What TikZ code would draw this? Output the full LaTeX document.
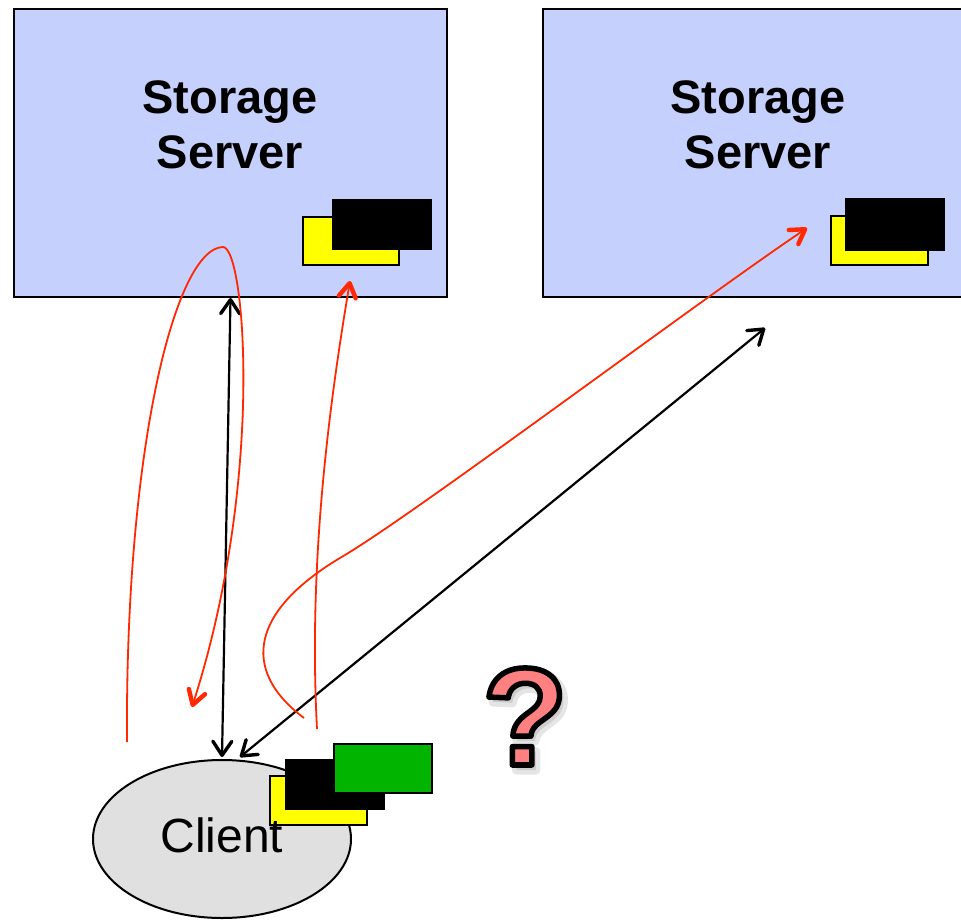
\documentclass[tikz,border=0pt]{standalone}
\usepackage{fontspec}
\setmainfont{Liberation Sans}
\usetikzlibrary{arrows.meta,shapes.geometric}

\definecolor{serverblue}{RGB}{197,208,252}
\definecolor{clientgray}{RGB}{224,224,224}
\definecolor{flowred}{RGB}{255,40,0}
\definecolor{qpink}{RGB}{255,128,128}
\definecolor{blockyellow}{RGB}{255,255,0}
\definecolor{blockgreen}{RGB}{0,180,0}

% glyphs filled with the current colour and stroked in a given width and grey level
\newcommand{\outlinedglyph}[3]{%
  \special{pdf:literal direct 2 Tr #1 w 1 j #2 #2 #2 RG}#3\special{pdf:literal direct 0 Tr}}

\tikzset{
  server/.style={draw=black, line width=2pt, fill=serverblue, anchor=north west,
                 inner sep=0pt},
  srvlabel/.style={font=\fontsize{47}{55}\selectfont\bfseries, align=center,
                   inner sep=0pt, anchor=north},
  block/.style={draw=black, line width=1.6pt, anchor=north west, inner sep=0pt,
                minimum width=97pt, minimum height=49pt},
  linktip/.tip={Straight Barb[length=14pt,width=19pt,line width=3.4pt,round]},
  link/.style={black, line width=2.2pt, linktip-linktip},
  flow/.style={flowred, line width=1.8pt},
  flowtip/.style={flow, -{Straight Barb[length=14pt,width=17pt,line width=4.4pt,round]}},
  qmark/.style={font=\fontsize{139}{139}\selectfont\bfseries, inner sep=0pt, anchor=base}
}

\begin{document}
\begin{tikzpicture}[x=1pt,y=-1pt]
\useasboundingbox (0,0) rectangle (961,920);
\clip (0,0) rectangle (961,920);

% storage servers
\node[server, minimum width=433pt, minimum height=288pt] (srvL) at (13,8) {};
\node[server, minimum width=432pt, minimum height=288pt] (srvR) at (542,8) {};
\node[srvlabel] (srvLtxt) at (230,80) {Storage\\Server};
\node[srvlabel] (srvRtxt) at (758,80) {Storage\\Server};

% data blocks held by the servers
\node[block, fill=blockyellow, minimum width=96pt, minimum height=48pt] (lY) at (302,216) {};
\node[block, fill=black, minimum width=98pt] (lK) at (332,199) {};
\node[block, fill=blockyellow] (rY) at (830,215) {};
\node[block, fill=black, minimum height=51pt, minimum width=98pt] (rK) at (845,198) {};

% client
\node[draw=black, line width=2pt, ellipse, fill=clientgray,
      minimum width=258pt, minimum height=158pt, inner sep=0pt] (client) at (222,839) {};

% blocks held by the client
\node[block, fill=blockyellow] (cY) at (269,775) {};
\node[block, fill=black, minimum width=98pt] (cK) at (285,759) {};
\node[block, fill=blockgreen, minimum width=98pt] (cG) at (333,743) {};

\node[font=\fontsize{48}{48}\selectfont, inner sep=0pt, anchor=base] (clientlbl)
  at (222,852) {Client};

% question mark with a soft shadow
\coordinate (qpos) at (525,765);
\node[qmark, text=black, opacity=0.10] (qshadow) at ([shift={(4,5)}]qpos)
  {\outlinedglyph{9}{0}{?}};
\node[qmark, text=qpink] (query) at (qpos) {\outlinedglyph{5.5}{0}{?}};

% free ends of the connectors
\coordinate (c1) at (222,757);
\coordinate (c2) at (240,757);
\coordinate (r2top) at (765,328);

\coordinate (f1s) at (127,742);
\coordinate (f1top) at (223,247);
\coordinate (f1e) at (192,707);
\coordinate (f2s) at (317,729);
\coordinate (f2e) at (350,281);
\coordinate (f3s) at (304,718);
\coordinate (f3m) at (345,555);
\coordinate (f3e) at (807,228);

% black request links
\draw[link] (c1) -- (srvL.south);
\draw[link] (c2) -- (r2top);

% red data flows
\draw[flow] (f1s) .. controls (125,450) and (175,248) .. (f1top);
\draw[flowtip] (f1top) .. controls (245,247) and (265,480) .. (f1e);
\draw[flowtip] (f2s) .. controls (308,560) and (330,400) .. (f2e);
\draw[flow] (f3s) .. controls (240,670) and (250,610) .. (f3m);
\draw[flowtip] (f3m) .. controls (420,510) and (700,300) .. (f3e);
\end{tikzpicture}
\end{document}
